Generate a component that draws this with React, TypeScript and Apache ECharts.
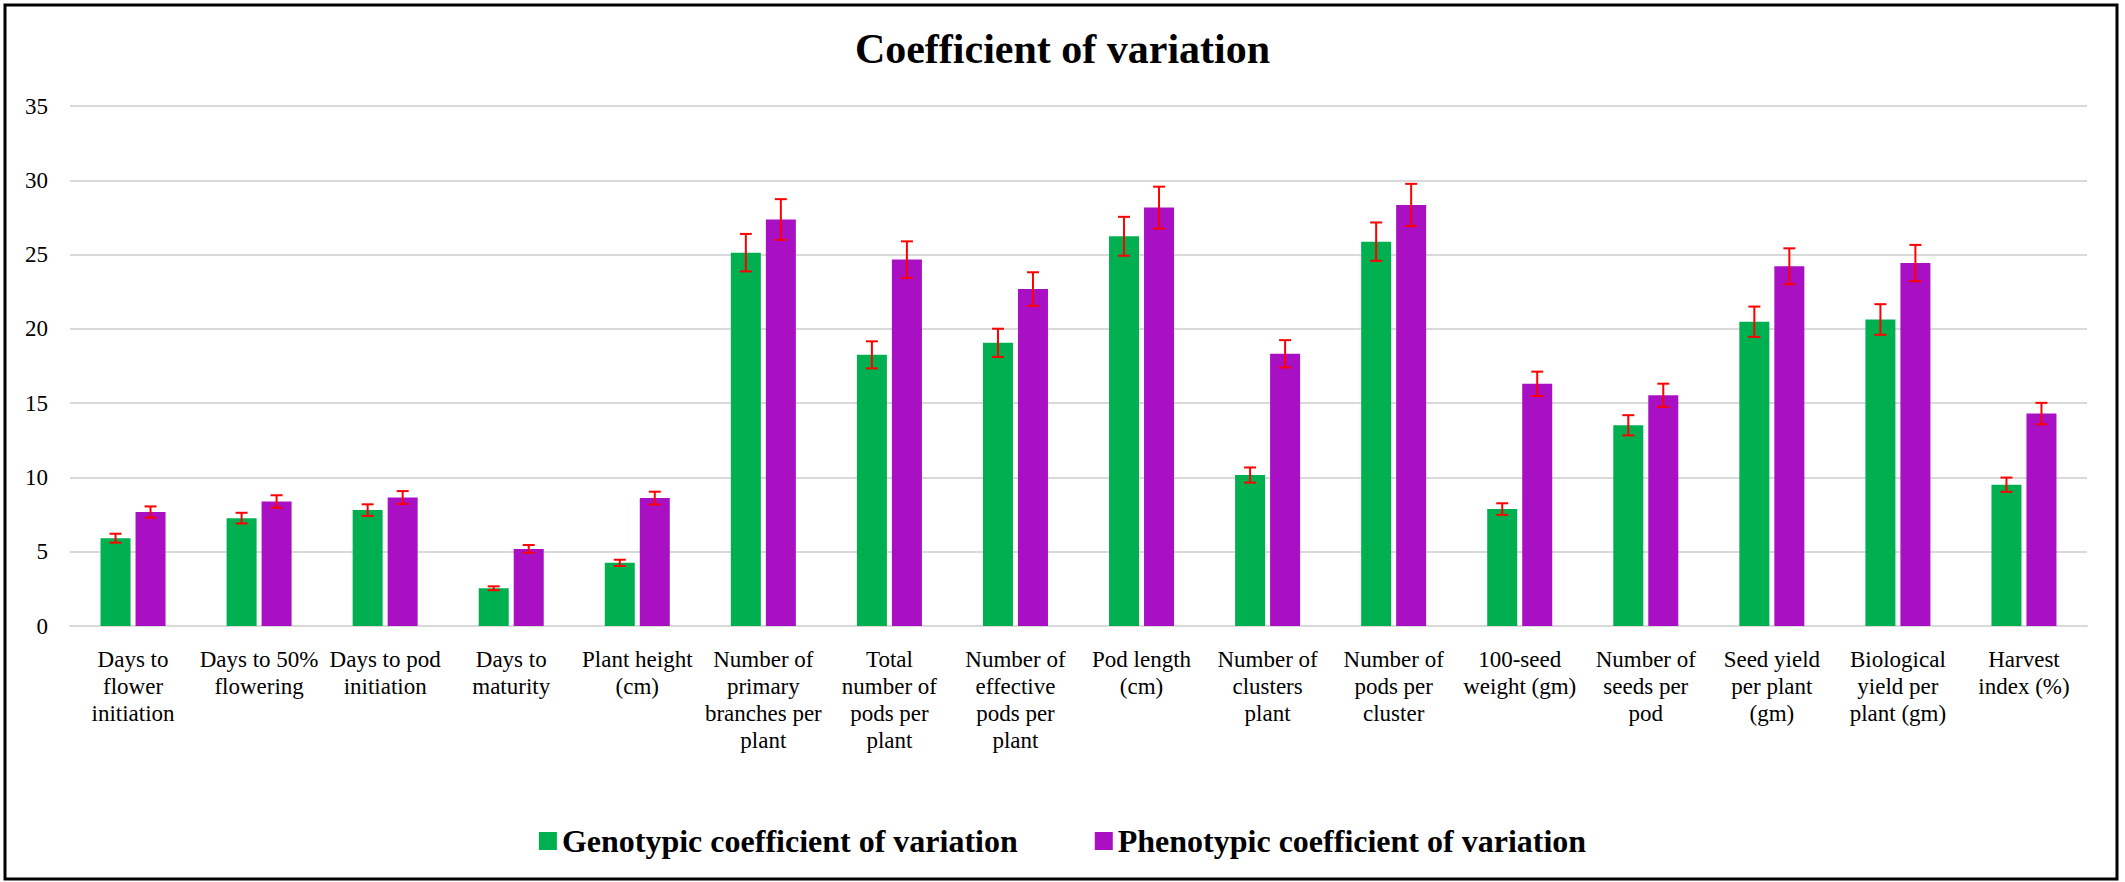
import React, { useEffect, useRef } from "react";
import * as echarts from "echarts";

const categories = [
  "Days to\nflower\ninitiation",
  "Days to 50%\nflowering",
  "Days to pod\ninitiation",
  "Days to\nmaturity",
  "Plant height\n(cm)",
  "Number of\nprimary\nbranches per\nplant",
  "Total\nnumber of\npods per\nplant",
  "Number of\neffective\npods per\nplant",
  "Pod length\n(cm)",
  "Number of\nclusters\nplant",
  "Number of\npods per\ncluster",
  "100-seed\nweight (gm)",
  "Number of\nseeds per\npod",
  "Seed yield\nper plant\n(gm)",
  "Biological\nyield per\nplant (gm)",
  "Harvest\nindex (%)",
];

const gcvValues = [5.91, 7.26, 7.8, 2.54, 4.25, 25.13, 18.25, 19.06, 26.23, 10.16, 25.87, 7.87, 13.51, 20.48, 20.63, 9.51];
const pcvValues = [7.67, 8.38, 8.65, 5.19, 8.61, 27.36, 24.66, 22.68, 28.16, 18.32, 28.34, 16.3, 15.53, 24.21, 24.43, 14.3];

const gcvErrors = [0.3, 0.36, 0.39, 0.13, 0.21, 1.26, 0.91, 0.95, 1.31, 0.51, 1.29, 0.39, 0.68, 1.02, 1.03, 0.48];
const pcvErrors = [0.38, 0.42, 0.43, 0.26, 0.43, 1.37, 1.23, 1.13, 1.41, 0.92, 1.42, 0.82, 0.78, 1.21, 1.22, 0.72];

const yTicks = { min: 0, max: 35, interval: 5 };

const seriesNames = ["Genotypic coefficient of variation", "Phenotypic coefficient of variation"];
const titleText = "Coefficient of variation";

const FONT = "Liberation Serif";
const GREEN = "#00B050";
const PURPLE = "#A90FC3";
const BAR_W = 30;
const BAR_GAP = 5;

function errorSeries(values: number[], errors: number[], offset: number) {
  return {
    type: "custom",
    silent: true,
    z: 10,
    data: values.map((v, i) => [i, v, errors[i]]),
    renderItem: (params: any, api: any) => {
      const idx = api.value(0);
      const v = api.value(1);
      const e = api.value(2);
      const c = api.coord([idx, v]);
      const hi = api.coord([idx, v + e]);
      const lo = api.coord([idx, v - e]);
      const x = c[0] + offset;
      const style = { stroke: "#FF0000", lineWidth: 2 };
      const cap = 6;
      return {
        type: "group",
        children: [
          { type: "line", shape: { x1: x, y1: hi[1], x2: x, y2: lo[1] }, style },
          { type: "line", shape: { x1: x - cap, y1: hi[1], x2: x + cap, y2: hi[1] }, style },
          { type: "line", shape: { x1: x - cap, y1: lo[1], x2: x + cap, y2: lo[1] }, style },
        ],
      };
    },
  };
}

export default function App() {
  const ref = useRef<HTMLDivElement>(null);

  useEffect(() => {
    document.body.style.margin = "0";
    if (!ref.current) return;
    const chart = echarts.init(ref.current, undefined, { renderer: "svg" });
    const off = (BAR_W + BAR_GAP) / 2;
    chart.setOption({
      animation: false,
      backgroundColor: "#ffffff",
      textStyle: { fontFamily: FONT },
      title: {
        text: titleText,
        left: "center",
        top: 23,
        textStyle: { fontFamily: FONT, fontSize: 42, fontWeight: "bold", color: "#000" },
      },
      legend: {
        data: seriesNames,
        left: "center",
        top: 820,
        icon: "rect",
        itemWidth: 18,
        itemHeight: 18,
        itemGap: 77,
        textStyle: { fontFamily: FONT, fontSize: 32, fontWeight: "bold", color: "#000" },
      },
      graphic: [
        {
          type: "rect",
          shape: { x: 5, y: 5, width: 2112, height: 874 },
          style: { fill: "none", stroke: "#000", lineWidth: 3 },
          silent: true,
        },
      ],
      grid: { left: 70, right: 38, top: 106, bottom: 256, containLabel: false },
      xAxis: {
        type: "category",
        data: categories,
        axisTick: { show: false },
        axisLine: { lineStyle: { color: "#d9d9d9", width: 2 } },
        axisLabel: {
          interval: 0,
          margin: 20,
          fontFamily: FONT,
          fontSize: 23,
          lineHeight: 27,
          color: "#000",
          align: "center",
        },
      },
      yAxis: {
        type: "value",
        min: yTicks.min,
        max: yTicks.max,
        interval: yTicks.interval,
        axisLine: { show: false },
        axisTick: { show: false },
        splitLine: { lineStyle: { color: "#d9d9d9", width: 2 } },
        axisLabel: { margin: 22, fontFamily: FONT, fontSize: 23, color: "#000" },
      },
      series: [
        {
          name: seriesNames[0],
          type: "bar",
          data: gcvValues,
          barWidth: BAR_W,
          barGap: `${(BAR_GAP / BAR_W) * 100}%`,
          itemStyle: { color: GREEN },
        },
        {
          name: seriesNames[1],
          type: "bar",
          data: pcvValues,
          barWidth: BAR_W,
          itemStyle: { color: PURPLE },
        },
        errorSeries(gcvValues, gcvErrors, -off),
        errorSeries(pcvValues, pcvErrors, off),
      ],
    });
    return () => chart.dispose();
  }, []);

  return <div ref={ref} style={{ width: 2125, height: 882 }} />;
}
